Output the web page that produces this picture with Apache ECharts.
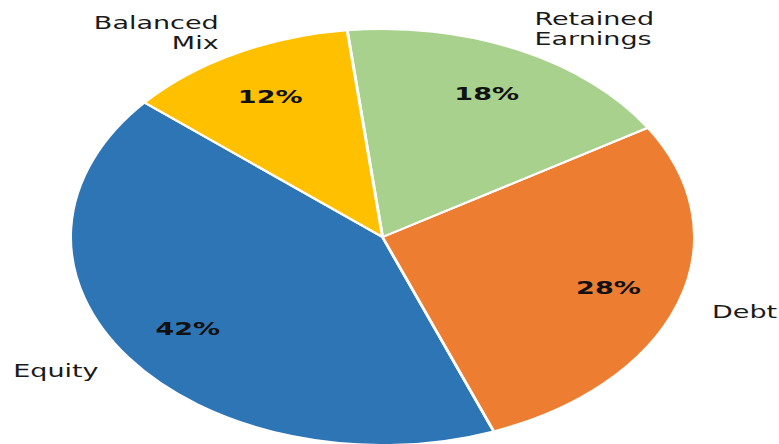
<!DOCTYPE html>
<html>
<head>
<meta charset="utf-8">
<script src="https://cdn.jsdelivr.net/npm/echarts@6/dist/echarts.min.js"></script>
<style>
  html, body { margin: 0; padding: 0; background: #ffffff; overflow: hidden; }
  #wrap { width: 779px; height: 444px; position: relative; overflow: hidden; }
  #chart { width: 519px; height: 444px; position: absolute; left: 0; top: 0; transform: scaleX(1.5); transform-origin: 0 0; }
</style>
</head>
<body>
<div id="wrap"><div id="chart"></div></div>
<script>
// Data
const categories = ['Equity', 'Debt', 'Retained Earnings', 'Balanced Mix'];
const labelNames = ['Equity', 'Debt', 'Retained\nEarnings', 'Balanced\nMix'];
const values = [42, 28, 18, 12];
const colors = ['#2e75b6', '#ed7d31', '#a9d18e', '#ffc000'];

const R = 208;
const center = [255, 237];
const startAngle = 139.7;

const chart = echarts.init(document.getElementById('chart'), null, { renderer: 'svg' });

const mainData = categories.map((c, i) => ({
  name: c,
  value: values[i],
  itemStyle: { color: colors[i] },
  label: { formatter: labelNames[i] }
}));
const pctData = categories.map((c, i) => ({ name: c, value: values[i] }));

chart.setOption({
  animation: false,
  backgroundColor: '#ffffff',
  series: [
    {
      type: 'pie',
      center: center,
      radius: [0, R],
      startAngle: startAngle,
      clockwise: false,
      avoidLabelOverlap: false,
      silent: true,
      itemStyle: { borderColor: '#ffffff', borderWidth: 2 },
      label: {
        show: true,
        position: 'outside',
        distanceToLabelLine: 0,
        fontFamily: 'DejaVu Sans',
        fontSize: 18,
        lineHeight: 20,
        color: '#1a1a1a'
      },
      labelLine: { show: false, length: R * 0.115, length2: 0 },
      emphasis: { disabled: true },
      data: mainData
    },
    {
      type: 'pie',
      center: center,
      radius: [R * 0.5, R],
      startAngle: startAngle,
      clockwise: false,
      avoidLabelOverlap: false,
      silent: true,
      itemStyle: { color: 'transparent', borderWidth: 0 },
      label: {
        show: true,
        position: 'inside',
        formatter: '{c}%',
        fontFamily: 'DejaVu Sans',
        fontWeight: 'bold',
        fontSize: 18,
        color: '#111111'
      },
      labelLine: { show: false },
      emphasis: { disabled: true },
      data: pctData
    }
  ]
});
</script>
</body>
</html>
